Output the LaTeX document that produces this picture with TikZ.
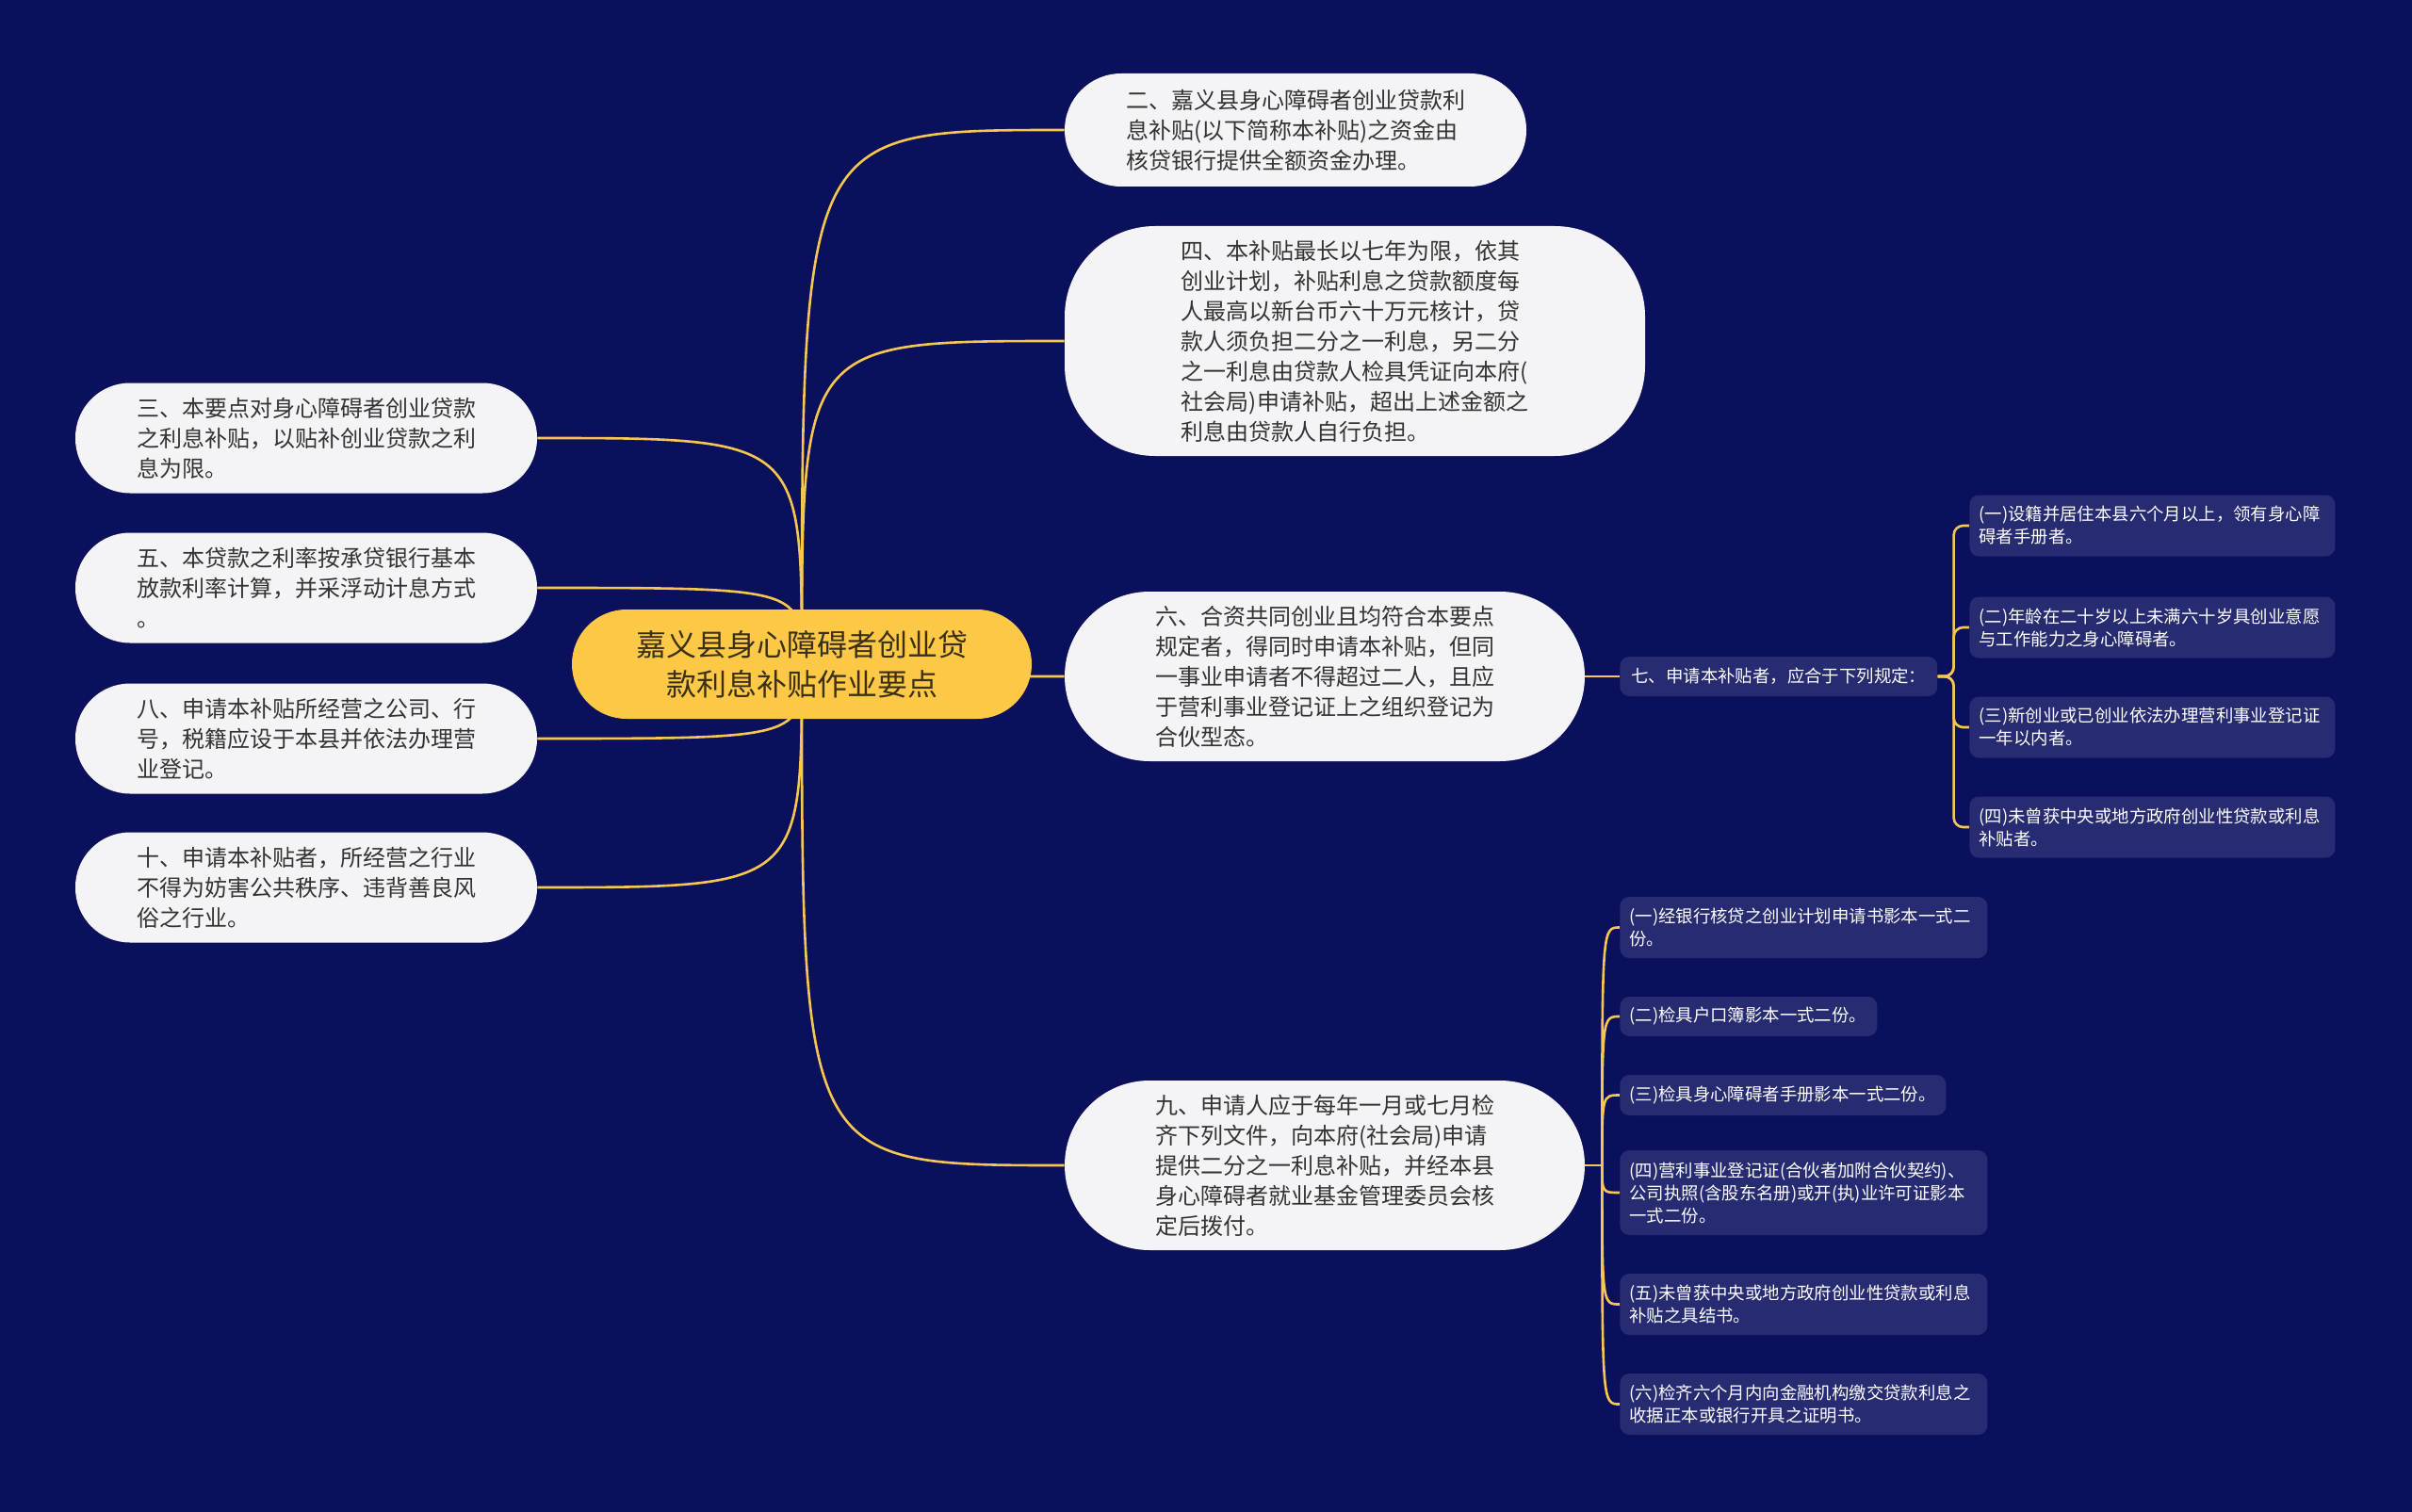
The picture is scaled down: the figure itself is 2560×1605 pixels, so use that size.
\documentclass[tikz,border=0pt]{standalone}
\usepackage{fontspec}
\setmainfont{Noto Sans CJK SC}
\usetikzlibrary{positioning,calc}
\definecolor{cBg}{HTML}{0B105C}
\definecolor{cRoot}{HTML}{FCC846}
\definecolor{cRootTxt}{HTML}{3A3018}
\definecolor{cPill}{HTML}{F4F4F6}
\definecolor{cInk}{HTML}{333333}
\definecolor{cSub}{HTML}{262B72}
\definecolor{cLink}{HTML}{F6C750}
\pgfdeclarelayer{bgl}
\pgfdeclarelayer{links}
\pgfsetlayers{bgl,links,main}
\tikzset{
  rootb/.style={rounded corners=29pt, fill=cRoot, text=cRootTxt, align=center,
                minimum width=244pt, minimum height=58pt, font=\fontsize{16}{21}\selectfont},
  pill/.style={fill=cPill, text=cInk, align=left, font=\fontsize{12}{16}\selectfont},
  leftb/.style={pill, minimum width=245pt, minimum height=58.5pt, rounded corners=29pt},
  rightb/.style={pill, minimum width=276pt, minimum height=90pt, rounded corners=45pt},
  subb/.style={fill=cSub, text=white, rounded corners=5pt, anchor=west, align=left,
               inner xsep=5pt, font=\fontsize{9.2}{12}\selectfont},
  ln/.style={draw=cLink, line width=1.3pt},
}

\begin{document}
\begin{tikzpicture}[x=0.5pt, y=-0.5pt]
  \begin{pgfonlayer}{bgl}
    \fill[cBg] (0,0) rectangle (2560,1605);
  \end{pgfonlayer}

  \node[rootb] (root) at (851,705) {嘉义县身心障碍者创业贷\\款利息补贴作业要点};

  \node[pill, minimum width=245pt, minimum height=60pt, rounded corners=30pt] (n2) at (1375,138)
    {二、嘉义县身心障碍者创业贷款利\\息补贴(以下简称本补贴)之资金由\\核贷银行提供全额资金办理。};
  \node[pill, minimum width=308pt, minimum height=122pt, rounded corners=48pt] (n4) at (1438,362)
    {四、本补贴最长以七年为限，依其\\创业计划，补贴利息之贷款额度每\\人最高以新台币六十万元核计，贷\\款人须负担二分之一利息，另二分\\之一利息由贷款人检具凭证向本府(\\社会局)申请补贴，超出上述金额之\\利息由贷款人自行负担。};
  \node[rightb] (n6) at (1406,718)
    {六、合资共同创业且均符合本要点\\规定者，得同时申请本补贴，但同\\一事业申请者不得超过二人，且应\\于营利事业登记证上之组织登记为\\合伙型态。};
  \node[rightb] (n9) at (1406,1237)
    {九、申请人应于每年一月或七月检\\齐下列文件，向本府(社会局)申请\\提供二分之一利息补贴，并经本县\\身心障碍者就业基金管理委员会核\\定后拨付。};

  \node[leftb] (n3) at (325,465) {三、本要点对身心障碍者创业贷款\\之利息补贴，以贴补创业贷款之利\\息为限。};
  \node[leftb] (n5) at (325,624) {五、本贷款之利率按承贷银行基本\\放款利率计算，并采浮动计息方式\\。};
  \node[leftb] (n8) at (325,784) {八、申请本补贴所经营之公司、行\\号，税籍应设于本县并依法办理营\\业登记。};
  \node[leftb] (n10) at (325,942) {十、申请本补贴者，所经营之行业\\不得为妨害公共秩序、违背善良风\\俗之行业。};

  \node[subb, inner xsep=6pt, minimum height=21pt] (q7) at (1719,718) {七、申请本补贴者，应合于下列规定：};
  \node[subb, text width=184pt, minimum height=32.5pt] (a1) at (2090,558) {(一)设籍并居住本县六个月以上，领有身心障\\碍者手册者。};
  \node[subb, text width=184pt, minimum height=32.5pt] (a2) at (2090,666) {(二)年龄在二十岁以上未满六十岁具创业意愿\\与工作能力之身心障碍者。};
  \node[subb, text width=184pt, minimum height=32.5pt] (a3) at (2090,772) {(三)新创业或已创业依法办理营利事业登记证\\一年以内者。};
  \node[subb, text width=184pt, minimum height=32.5pt] (a4) at (2090,878) {(四)未曾获中央或地方政府创业性贷款或利息\\补贴者。};

  \node[subb, text width=185pt, minimum height=32.5pt] (b1) at (1719,984.5) {(一)经银行核贷之创业计划申请书影本一式二\\份。};
  \node[subb, text width=126.5pt, minimum height=21pt] (b2) at (1719,1079) {(二)检具户口簿影本一式二份。};
  \node[subb, text width=163pt, minimum height=21.5pt] (b3) at (1719,1162.5) {(三)检具身心障碍者手册影本一式二份。};
  \node[subb, text width=185pt, minimum height=45pt] (b4) at (1719,1266) {(四)营利事业登记证(合伙者加附合伙契约)、\\公司执照(含股东名册)或开(执)业许可证影本\\一式二份。};
  \node[subb, text width=185pt, minimum height=32.5pt] (b5) at (1719,1384.5) {(五)未曾获中央或地方政府创业性贷款或利息\\补贴之具结书。};
  \node[subb, text width=185pt, minimum height=32.5pt] (b6) at (1719,1490.5) {(六)检齐六个月内向金融机构缴交贷款利息之\\收据正本或银行开具之证明书。};

  \begin{pgfonlayer}{links}
    \foreach \n in {n2,n4,n6,n9}
      \draw[ln] (root.center) .. controls (root.center |- \n.west) .. (\n.west);
    \foreach \n in {n3,n5,n8,n10}
      \draw[ln] (root.center) .. controls (root.center |- \n.east) .. (\n.east);
    \draw[ln] (n6.east) -- (q7.west);
    \coordinate (s7) at ($(q7.east)+(17,0)$);
    \foreach \n in {a1,a2,a3,a4}
      \draw[ln, rounded corners=5pt] (q7.east) -- (s7) |- (\n.west);
    \coordinate (s9) at ($(n9.east)+(18,0)$);
    \draw[ln] (n9.east) -- (s9);
    \foreach \n in {b1,b2,b3,b4,b5,b6}
      \draw[ln] (s9) .. controls (s9 |- \n.west) .. (\n.west);
  \end{pgfonlayer}
\end{tikzpicture}
\end{document}
